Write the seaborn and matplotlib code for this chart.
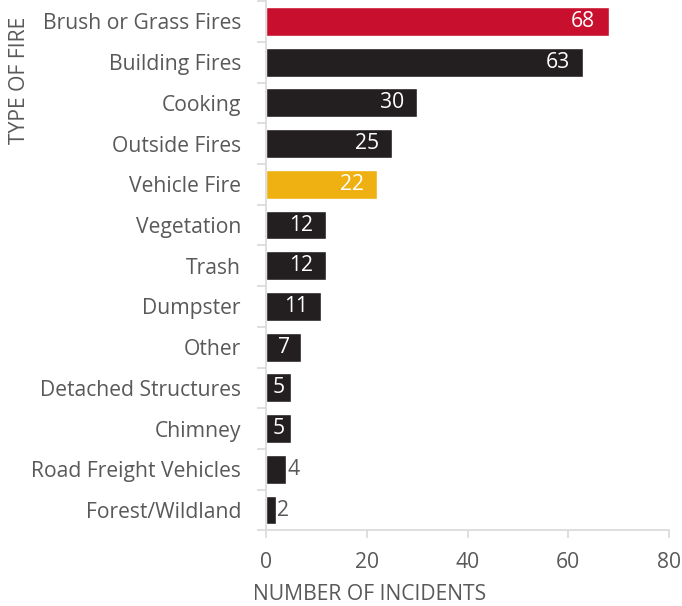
import matplotlib
matplotlib.use("Agg")
import matplotlib.pyplot as plt
import seaborn as sns
import pandas as pd

categories = [
    "Brush or Grass Fires", "Building Fires", "Cooking", "Outside Fires",
    "Vehicle Fire", "Vegetation", "Trash", "Dumpster", "Other",
    "Detached Structures", "Chimney", "Road Freight Vehicles", "Forest/Wildland",
]
incidents = [68, 63, 30, 25, 22, 12, 12, 11, 7, 5, 5, 4, 2]
bar_colors = [
    "#C8102E", "#231F20", "#231F20", "#231F20", "#EFB011", "#231F20",
    "#231F20", "#231F20", "#231F20", "#231F20", "#231F20", "#231F20", "#231F20",
]
x_ticks = [0, 20, 40, 60, 80]

TEXT = "#595959"
AXIS = "#D9D9D9"
FS = 15.2

sns.set_theme(style="white")
plt.rcParams["font.family"] = ["Open Sans", "DejaVu Sans"]

fig = plt.figure(figsize=(6.82, 6.06), dpi=100)
ax = fig.add_axes([266 / 682, 1 - 530.4 / 606, 403 / 682, 529.3 / 606])

df = pd.DataFrame({"type": categories, "count": incidents})
sns.barplot(
    data=df, x="count", y="type", hue="type",
    palette=dict(zip(categories, bar_colors)),
    legend=False, width=0.71, saturation=1, ax=ax,
)

ax.set_xlim(0, 80)
ax.set_ylim(len(categories) - 0.5, -0.5)
ax.set_xticks(x_ticks)
ax.set_xticklabels([str(t) for t in x_ticks])

# category boundary ticks on the left axis
ax.set_yticks([i - 0.5 for i in range(len(categories) + 1)], minor=True)
ax.tick_params(axis="y", which="major", length=0, pad=18, labelsize=FS, labelcolor=TEXT)
ax.tick_params(axis="y", which="minor", length=6.5, width=1.2, color=AXIS, direction="out", left=True)
ax.tick_params(axis="x", which="major", length=5.8, width=1.2, color=AXIS, direction="out",
               bottom=True, pad=10, labelsize=FS, labelcolor=TEXT)

for side in ("top", "right"):
    ax.spines[side].set_visible(False)
for side in ("left", "bottom"):
    ax.spines[side].set_color(AXIS)
    ax.spines[side].set_linewidth(1.2)

ax.set_xlabel("NUMBER OF INCIDENTS", fontsize=FS, color=TEXT, ha="left")
ax.xaxis.set_label_coords(-0.032, -0.101)
ax.set_ylabel("TYPE OF FIRE", fontsize=FS, color=TEXT, loc="top")
ax.yaxis.set_label_coords(-0.585, 0.97)

# value labels: inside the bar end where they fit, centred on short bars, outside on tiny ones
for patch, val in zip(ax.patches, incidents):
    y = patch.get_y() + patch.get_height() / 2
    w = patch.get_width()
    if val >= 10:
        ax.annotate(str(val), (w, y), xytext=(-9.5, 0), textcoords="offset points",
                    ha="right", va="center", color="white", fontsize=FS)
    elif val >= 5:
        ax.annotate(str(val), (w / 2, y), ha="center", va="center",
                    color="white", fontsize=FS)
    else:
        ax.annotate(str(val), (w, y), xytext=(1.0, 0), textcoords="offset points",
                    ha="left", va="center", color=TEXT, fontsize=FS)

fig.savefig("out.png", dpi=100)
